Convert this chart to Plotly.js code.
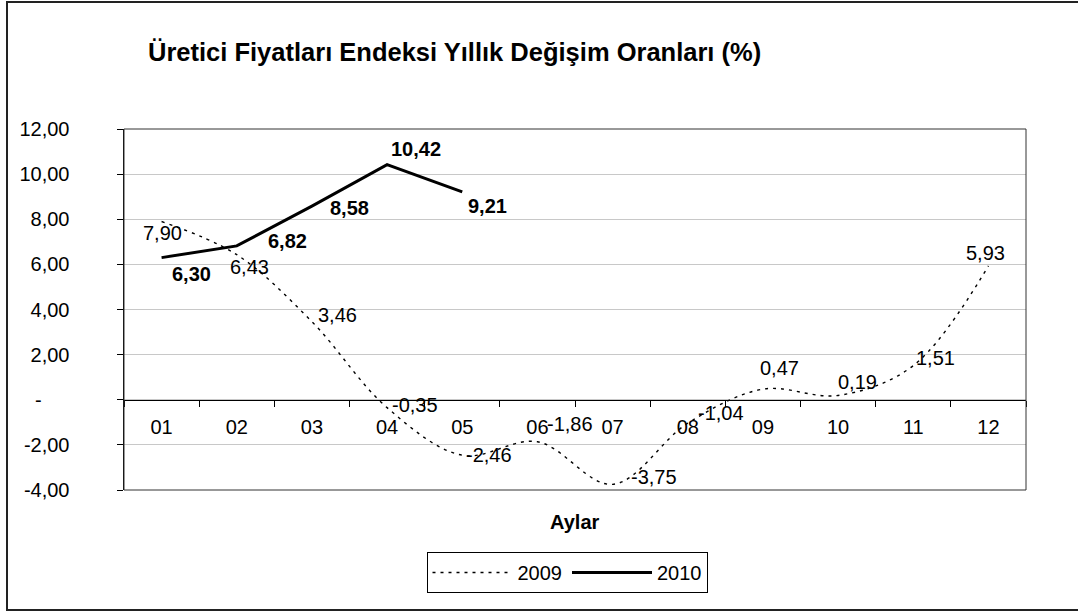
<!DOCTYPE html>
<html>
<head>
<meta charset="utf-8">
<script src="https://cdn.plot.ly/plotly-3.0.1.min.js"></script>
<style>
html,body{margin:0;padding:0;background:#fff;}
#chart{width:1078px;height:614px;}
</style>
</head>
<body>
<div id="chart"></div>
<script>
// ---- data ----
const months = ["01","02","03","04","05","06","07","08","09","10","11","12"];
const values2009 = [7.90, 6.43, 3.46, -0.35, -2.46, -1.86, -3.75, -1.04, 0.47, 0.19, 1.51, 5.93];
const values2010 = [6.30, 6.82, 8.58, 10.42, 9.21];
const yTickVals = [12, 10, 8, 6, 4, 2, 0, -2, -4];
const yTickText = ["12,00", "10,00", "8,00", "6,00", "4,00", "2,00", "-\u00a0\u00a0\u00a0\u00a0\u00a0", "-2,00", "-4,00"];
const seriesNames = ["2009", "2010"];
const titleText = "Üretici Fiyatları Endeksi Yıllık Değişim Oranları (%)";
const xTitleText = "Aylar";

// ---- label offsets (pixels, style only) ----
const off2009 = [[1,-11],[13,-12],[26,7],[28,3],[27,0],[33,18],[41,7],[33,10],[17,21],[19,13],[22,8],[-3,13]];
const off2010 = [[30,-16],[51,5],[38,-2],[29,16],[25,-14]];

const FONT = "Liberation Sans, Arial, sans-serif";
const fmt = v => v.toFixed(2).replace('.', ',');
const yMin = -4, yMax = 12;

const traces = [
  {
    x: months, y: values2009, name: seriesNames[0], type: 'scatter', mode: 'lines',
    line: {color: '#000', width: 1.4, dash: '3px,5px', shape: 'spline', smoothing: 1},
    hoverinfo: 'skip'
  },
  {
    x: months.slice(0, values2010.length), y: values2010, name: seriesNames[1], type: 'scatter', mode: 'lines',
    line: {color: '#000', width: 3},
    hoverinfo: 'skip'
  }
];

const annotations = [];
values2009.forEach((v, i) => annotations.push({
  x: i, y: v, xref: 'x', yref: 'y', text: fmt(v), showarrow: false,
  xshift: off2009[i][0], yshift: off2009[i][1],
  font: {family: FONT, size: 20, color: '#000'}
}));
values2010.forEach((v, i) => annotations.push({
  x: i, y: v, xref: 'x', yref: 'y', text: '<b>' + fmt(v) + '</b>', showarrow: false,
  xshift: off2010[i][0], yshift: off2010[i][1],
  font: {family: FONT, size: 20, color: '#000'}
}));
annotations.push({
  x: 0.5, y: -0.09, xref: 'paper', yref: 'paper', yanchor: 'middle', showarrow: false,
  text: '<b>' + xTitleText + '</b>', font: {family: FONT, size: 20, color: '#000'}
});

const layout = {
  width: 1078, height: 614,
  margin: {l: 124, r: 52, t: 129, b: 124},
  paper_bgcolor: '#fff', plot_bgcolor: '#fff',
  font: {family: FONT, size: 20, color: '#000'},
  title: {
    text: '<b>' + titleText + '</b>',
    x: 148/1078, xref: 'container', xanchor: 'left',
    y: 1 - 52/614, yref: 'container', yanchor: 'middle',
    font: {family: FONT, size: 25.5, color: '#000'}
  },
  xaxis: {
    type: 'category', categoryarray: months, range: [-0.5, 11.5],
    anchor: 'free', position: (0 - yMin) / (yMax - yMin),
    showgrid: false, zeroline: false,
    showline: true, linecolor: '#000', linewidth: 1,
    ticks: 'outside', tickson: 'boundaries', ticklen: 6, tickcolor: '#000', tickwidth: 1,
    ticklabelstandoff: 9,
    tickfont: {family: FONT, size: 20, color: '#000'},
    fixedrange: true
  },
  yaxis: {
    range: [yMin, yMax],
    tickvals: yTickVals, ticktext: yTickText,
    showgrid: true, gridcolor: '#c8c8c8', gridwidth: 1,
    zeroline: false,
    showline: true, linecolor: '#000', linewidth: 1.5,
    ticks: 'outside', ticklen: 6, tickcolor: '#000', tickwidth: 1,
    ticklabelstandoff: 43,
    tickfont: {family: FONT, size: 20, color: '#000'},
    fixedrange: true
  },
  showlegend: true,
  legend: {
    orientation: 'h', x: (567 - 124) / 902, xanchor: 'center',
    y: (490 - 552) / 361, yanchor: 'top',
    bordercolor: '#000', borderwidth: 1, bgcolor: '#fff',
    font: {family: FONT, size: 20, color: '#000'},
    itemwidth: 80, tracegroupgap: 0
  },
  shapes: [
    {type: 'rect', xref: 'paper', yref: 'paper', x0: 0, x1: 1, y0: 0, y1: 1,
     line: {color: '#333', width: 1}, layer: 'above'},
    {type: 'rect', xref: 'paper', yref: 'paper',
     x0: (7 - 124) / 902, x1: (1085 - 124) / 902, y0: (490 - 610) / 361, y1: (490 - 2) / 361,
     line: {color: '#222', width: 2}}
  ],
  annotations: annotations
};

Plotly.newPlot('chart', traces, layout, {staticPlot: true, displayModeBar: false});
</script>
</body>
</html>
